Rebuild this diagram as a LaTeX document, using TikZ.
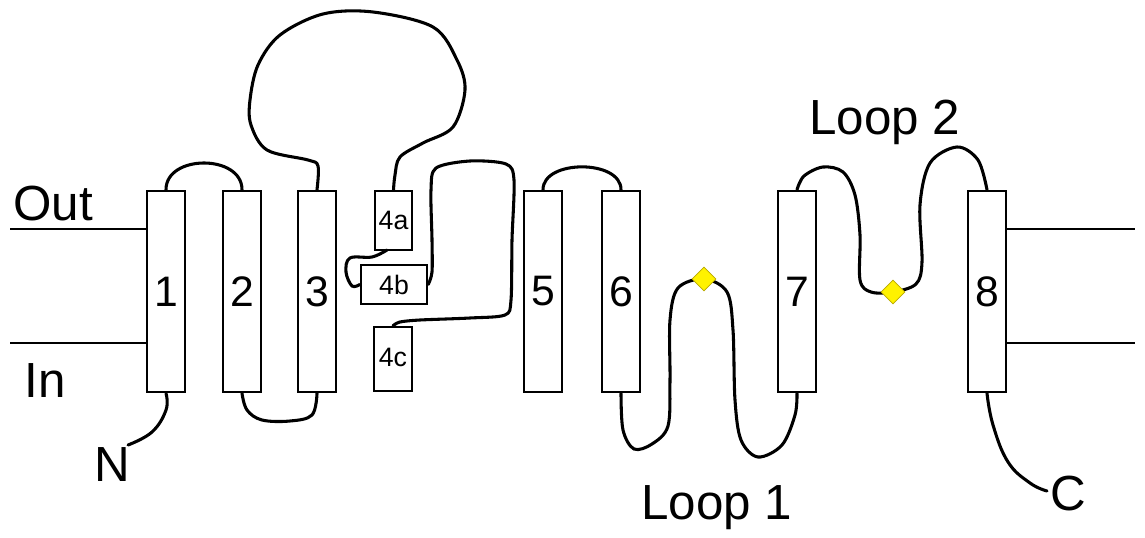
\documentclass[tikz,border=0pt]{standalone}
\usepackage{fontspec}
\setmainfont{Liberation Sans}
\usetikzlibrary{shapes.geometric}
\definecolor{dyel}{HTML}{FFF200}
\definecolor{dyelb}{HTML}{B8A800}
\begin{document}
\begin{tikzpicture}[x=0.75pt,y=-0.75pt,
  helix/.style={draw,line width=2pt,fill=white,inner sep=0pt,minimum width=28.5pt,minimum height=150.75pt,font=\fontsize{32}{32}\selectfont},
  seg/.style={draw,line width=1.8pt,fill=white,inner sep=0pt,font=\fontsize{20}{20}\selectfont},
  chain/.style={line width=2.3pt,line cap=round,line join=round},
  memb/.style={line width=1.9pt},
  lbl/.style={inner sep=0pt,font=\fontsize{37}{37}\selectfont},
  site/.style={diamond,draw=dyelb,line width=0.6pt,fill=dyel,inner sep=0pt,minimum width=18pt,minimum height=18pt}]
\useasboundingbox (0,0) rectangle (1145,538);
% membrane lines
\coordinate (oL) at (10,229);
\coordinate (iL) at (10,343);
\coordinate (oR) at (1135,229);
\coordinate (iR) at (1135,343);
% helices
\node[helix] (h1) at (166,291.5) {1};
\node[helix] (h2) at (242,291.5) {2};
\node[helix] (h3) at (317,291.5) {3};
\node[helix] (h5) at (543,291.5) {5};
\node[helix] (h6) at (621,291.5) {6};
\node[helix] (h7) at (797,291.5) {7};
\node[helix] (h8) at (987,291.5) {8};
\node[seg,minimum width=27.75pt,minimum height=44.25pt] (h4a) at (393.5,220.5) {\raisebox{-4pt}{4a}};
\node[seg,minimum width=49.5pt,minimum height=29.25pt] (h4b) at (394,284.5) {\raisebox{-2pt}{4b}};
\node[seg,minimum width=28.5pt,minimum height=48pt] (h4c) at (393,359) {\raisebox{2pt}{4c}};
\draw[memb] (oL) -- (oL -| h1.west);
\draw[memb] (iL) -- (iL -| h1.west);
\draw[memb] (oR -| h8.east) -- (oR);
\draw[memb] (iR -| h8.east) -- (iR);
% glycosylation-like sites
\coordinate (d1) at (704,279);
\coordinate (d2) at (893,292);
% chain
\draw[chain] (h1.south) plot[smooth,tension=0.7] coordinates {(h1.south) (166,410) (152,432) (128,445)};
\draw[chain] (h1.north) to[out=90,in=90,looseness=1.2] (h2.north);
\draw[chain] plot[smooth,tension=0.6] coordinates {(h2.south) (247,410) (262,420) (290,421) (312,415) (h3.south)};
\draw[chain] plot[smooth,tension=0.55] coordinates {(h3.north) (318,166) (308,160) (267,150) (251,125) (250,100) (258,65) (280,35) (323,14) (373,12) (433,27) (457,60) (465,90) (453,127) (423,143) (400,157) (395,175) (h4a.north)};
\draw[chain] plot[smooth,tension=0.6] coordinates {(387,250) (372,257) (350,258) (346,272) (352,286) (h4b.west)};
\draw[chain] plot[smooth,tension=0.5] coordinates {(h4b.east) (432,272) (432,240) (431,190) (436,168) (470,161) (506,164) (514,180) (512,240) (511,300) (505,315) (470,318) (420,320) (400,322) (h4c.north)};
\draw[chain] (h5.north) to[out=90,in=90,looseness=1.0] (h6.north);
\draw[chain] plot[smooth,tension=0.55] coordinates {(h6.south) (623,430) (634,449) (652,444) (668,426) (670,380) (670,320) (678,288) (d1) (727,292) (733,330) (735,400) (741,440) (758,457) (782,445) (795,415) (h7.south)};
\draw[chain] plot[smooth,tension=0.55] coordinates {(h7.north) (804,176) (823,167) (843,172) (855,195) (860,235) (860,280) (871,292) (d2) (916,284) (922,262) (920,205) (930,163) (957,147) (978,160) (h8.north)};
\draw[chain] plot[smooth,tension=0.7] coordinates {(h8.south) (993,425) (1008,462) (1030,483) (1047,491)};
\node[site] (s1) at (d1) {};
\node[site] (s2) at (d2) {};
% labels
\node[lbl] (tout) at (53,204) {Out};
\node[lbl] (tin) at (45,381) {In};
\node[lbl] (tn) at (112,465) {N};
\node[lbl] (tc) at (1068,494) {C};
\node[lbl] (tl1) at (717,508) {Loop 1};
\node[lbl] (tl2) at (885,122) {Loop 2};
\end{tikzpicture}
\end{document}
